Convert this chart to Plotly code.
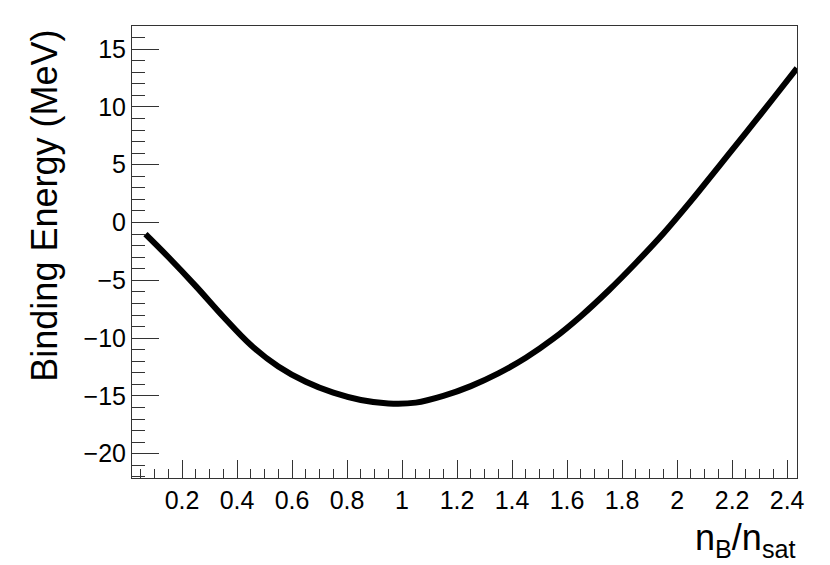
import plotly.graph_objects as go

# density ratio n_B/n_sat and binding energy (MeV)
density = [0.067, 0.15, 0.25, 0.35, 0.45, 0.55, 0.65, 0.75, 0.85, 0.95, 1.05,
           1.15, 1.25, 1.35, 1.45, 1.55, 1.65, 1.75, 1.85, 1.95, 2.05,
           2.15, 2.25, 2.35, 2.436]
energy = [-1.0, -2.98, -5.5, -8.15, -10.6, -12.45, -13.78, -14.72, -15.35, -15.65, -15.58,
          -15.0, -14.15, -13.05, -11.7, -10.05, -8.1, -5.9, -3.5, -0.95, 1.85,
          4.8, 7.75, 10.75, 13.35]

font_family = "Liberation Sans, Arial, Helvetica, sans-serif"

fig = go.Figure()
fig.add_trace(go.Scatter(x=density, y=energy, mode='lines',
                         line=dict(color='black', width=6, shape='spline', smoothing=1),
                         showlegend=False))

fig.update_xaxes(range=[0.018, 2.436], tick0=0.2, dtick=0.2,
                 ticks='inside', ticklen=18, tickwidth=1, tickcolor='#333',
                 minor=dict(dtick=0.05, tick0=0, ticks='inside', ticklen=9,
                            tickwidth=1, tickcolor='#333'),
                 showline=True, linecolor='#333', linewidth=1, mirror=True,
                 showgrid=False, zeroline=False, automargin=False,
                 tickfont=dict(size=25, family=font_family, color='black'))
fig.update_yaxes(range=[-22.1, 17.0], tick0=0, dtick=5,
                 ticks='inside', ticklen=27, tickwidth=1, tickcolor='#333',
                 minor=dict(dtick=1, tick0=0, ticks='inside', ticklen=13,
                            tickwidth=1, tickcolor='#333'),
                 showline=True, linecolor='#333', linewidth=1, mirror=True,
                 showgrid=False, zeroline=False, automargin=False,
                 tickfont=dict(size=25, family=font_family, color='black'))

fig.add_annotation(text="Binding Energy (MeV)", textangle=-90,
                   xref='paper', yref='paper', x=-0.131, y=0.996,
                   xanchor='center', yanchor='top', showarrow=False,
                   font=dict(size=36, family=font_family, color='black'))
fig.add_annotation(text="n<sub>B</sub>/n<sub>sat</sub>",
                   xref='paper', yref='paper', x=1.0, y=-0.082,
                   xanchor='right', yanchor='top', showarrow=False,
                   font=dict(size=36, family=font_family, color='black'))

# page body keeps an 8px margin, so the figure is sized to fit the window
fig.update_layout(width=822, height=557,
                  margin=dict(l=124, r=33, t=18, b=87),
                  paper_bgcolor='white', plot_bgcolor='white')

fig.write_html("out.html")
